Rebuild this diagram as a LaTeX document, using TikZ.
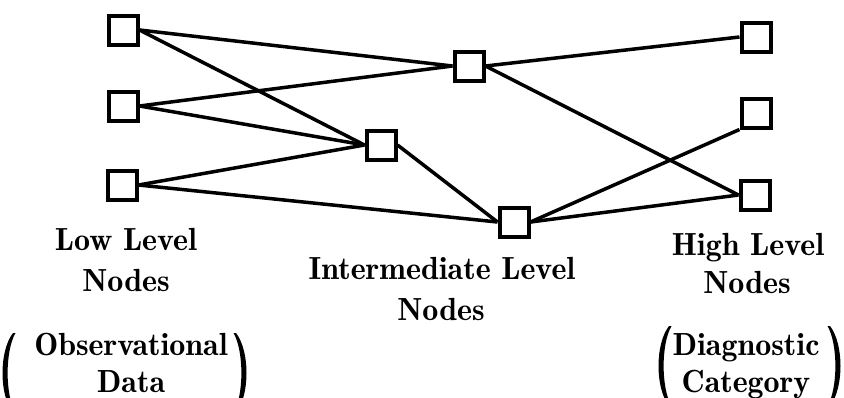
\documentclass[tikz,border=0pt]{standalone}
\usepackage{fontspec}
\newfontfamily\demifont{lmromandemi10-regular.otf}
\tikzset{
  sq/.style={draw, line width=4pt, fill=white, minimum size=29pt, inner sep=0pt},
  edge/.style={line width=3.5pt},
  lbl/.style={anchor=base, inner sep=0pt, font=\demifont\fontsize{32}{41}\selectfont},
  paren/.pic={\fill (0,0) .. controls (-14,18) and (-14,62) .. (0,80)
      -- (2.5,80) .. controls (-8,62) and (-8,18) .. (2.5,0) -- cycle;}
}
\begin{document}
\begin{tikzpicture}[x=1pt,y=-1pt]
\useasboundingbox (0,0) rectangle (844,397);
% nodes
\node[sq] (L1) at (123,30) {};
\node[sq] (L2) at (123,106) {};
\node[sq] (L3) at (122,185) {};
\node[sq] (I1) at (469,66) {};
\node[sq] (I2) at (381,145) {};
\node[sq] (I3) at (514,222) {};
\node[sq] (H1) at (756,37) {};
\node[sq] (H2) at (756,113) {};
\node[sq] (H3) at (755,195) {};
% edges
\draw[edge] (L1.east) -- (I1.west);
\draw[edge] (L1.east) -- (I2.west);
\draw[edge] (L2.east) -- (I1.west);
\draw[edge] (L2.east) -- (I2.west);
\draw[edge] (L3.east) -- (I2.west);
\draw[edge] (L3.east) -- (I3.west);
\draw[edge] (I1.east) -- (H1.west);
\draw[edge] (I1.east) -- (H3.west);
\draw[edge] (I2.east) -- (I3.west);
\draw[edge] (I3.east) -- (H2.south west);
\draw[edge] (I3.east) -- (H3.west);
% labels
\node[lbl] (lowa) at (126,250) {Low Level};
\node[lbl] (lowb) at (126,291) {Nodes};
\node[lbl] (inta) at (442,279) {Intermediate Level};
\node[lbl] (intb) at (441,320) {Nodes};
\node[lbl] (higha) at (748,255) {High Level};
\node[lbl] (highb) at (747,293) {Nodes};
\node[lbl] (obsa) at (131,355) {Observational};
\node[lbl] (obsb) at (131,392) {Data};
\node[lbl] (diaga) at (746,355) {Diagnostic};
\node[lbl] (diagb) at (746,392) {Category};
% parentheses
\pic at (13,333) {paren};
\pic[xscale=-1] at (236,333) {paren};
\pic at (669,326) {paren};
\pic[xscale=-1] at (830,326) {paren};
\end{tikzpicture}
\end{document}
